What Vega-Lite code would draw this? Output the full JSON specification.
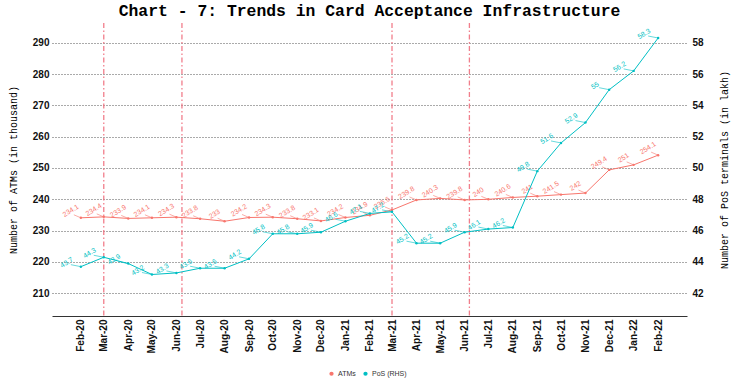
{
  "$schema": "https://vega.github.io/schema/vega-lite/v6.json",
  "width": 635,
  "height": 293,
  "autosize": {"type": "none"},
  "padding": {"left": 52, "top": 23, "right": 46, "bottom": 71},
  "background": "white",
  "title": {
    "text": "Chart - 7: Trends in Card Acceptance Infrastructure",
    "font": "Liberation Mono",
    "fontSize": 16.4,
    "fontWeight": "bold",
    "color": "#000000",
    "anchor": "middle",
    "frame": "group",
    "offset": 3
  },
  "config": {
    "view": {"stroke": null},
    "font": "Liberation Sans",
    "axis": {"labelOverlap": false, "labelFlush": false}
  },
  "datasets": {
    "series": [
      {"date": "2020-02-01", "atm": 234.1, "pos": 43.7},
      {"date": "2020-03-01", "atm": 234.4, "pos": 44.3},
      {"date": "2020-04-01", "atm": 233.9, "pos": 43.9},
      {"date": "2020-05-01", "atm": 234.1, "pos": 43.2},
      {"date": "2020-06-01", "atm": 234.3, "pos": 43.3},
      {"date": "2020-07-01", "atm": 233.8, "pos": 43.6},
      {"date": "2020-08-01", "atm": 233, "pos": 43.6},
      {"date": "2020-09-01", "atm": 234.2, "pos": 44.2},
      {"date": "2020-10-01", "atm": 234.3, "pos": 45.8},
      {"date": "2020-11-01", "atm": 233.8, "pos": 45.8},
      {"date": "2020-12-01", "atm": 233.1, "pos": 45.9},
      {"date": "2021-01-01", "atm": 234.2, "pos": 46.6},
      {"date": "2021-02-01", "atm": 234.9, "pos": 47.1},
      {"date": "2021-03-01", "atm": 236.6, "pos": 47.2},
      {"date": "2021-04-01", "atm": 239.8, "pos": 45.2},
      {"date": "2021-05-01", "atm": 240.3, "pos": 45.2},
      {"date": "2021-06-01", "atm": 239.8, "pos": 45.9},
      {"date": "2021-07-01", "atm": 240, "pos": 46.1},
      {"date": "2021-08-01", "atm": 240.6, "pos": 46.2},
      {"date": "2021-09-01", "atm": 241, "pos": 49.8},
      {"date": "2021-10-01", "atm": 241.5, "pos": 51.6},
      {"date": "2021-11-01", "atm": 242, "pos": 52.9},
      {"date": "2021-12-01", "atm": 249.4, "pos": 55},
      {"date": "2022-01-01", "atm": 251, "pos": 56.2},
      {"date": "2022-02-01", "atm": 254.1, "pos": 58.3}
    ],
    "events": [
      {"date": "2020-03-01"},
      {"date": "2020-06-08"},
      {"date": "2021-03-01"},
      {"date": "2021-06-07"}
    ]
  },
  "encoding": {
    "x": {"field": "date", "type": "temporal", "title": null,
      "scale": {"type": "utc", "domain": [{"year": 2019, "month": 12, "date": 26, "hours": 10, "minutes": 48, "utc": true}, {"year": 2022, "month": 3, "date": 9, "hours": 13, "minutes": 12, "utc": true}]},
      "axis": {"orient": "bottom", "format": "%b-%y", "labelAngle": -90, "labelOverlap": false, "labelFlush": false, "labelFont": "Liberation Sans", "labelFontWeight": "bold", "labelFontSize": 10, "labelColor": "#111111", "labelPadding": 3, "ticks": false, "grid": false, "domain": true, "domainColor": "#333333", "domainWidth": 1, "title": null,
        "values": [
          {"year": 2020, "month": 2, "date": 1, "utc": true}, {"year": 2020, "month": 3, "date": 1, "utc": true}, {"year": 2020, "month": 4, "date": 1, "utc": true}, {"year": 2020, "month": 5, "date": 1, "utc": true}, {"year": 2020, "month": 6, "date": 1, "utc": true}, {"year": 2020, "month": 7, "date": 1, "utc": true}, {"year": 2020, "month": 8, "date": 1, "utc": true}, {"year": 2020, "month": 9, "date": 1, "utc": true}, {"year": 2020, "month": 10, "date": 1, "utc": true}, {"year": 2020, "month": 11, "date": 1, "utc": true}, {"year": 2020, "month": 12, "date": 1, "utc": true},
          {"year": 2021, "month": 1, "date": 1, "utc": true}, {"year": 2021, "month": 2, "date": 1, "utc": true}, {"year": 2021, "month": 3, "date": 1, "utc": true}, {"year": 2021, "month": 4, "date": 1, "utc": true}, {"year": 2021, "month": 5, "date": 1, "utc": true}, {"year": 2021, "month": 6, "date": 1, "utc": true}, {"year": 2021, "month": 7, "date": 1, "utc": true}, {"year": 2021, "month": 8, "date": 1, "utc": true}, {"year": 2021, "month": 9, "date": 1, "utc": true}, {"year": 2021, "month": 10, "date": 1, "utc": true}, {"year": 2021, "month": 11, "date": 1, "utc": true}, {"year": 2021, "month": 12, "date": 1, "utc": true},
          {"year": 2022, "month": 1, "date": 1, "utc": true}, {"year": 2022, "month": 2, "date": 1, "utc": true}
        ]}}
  },
  "layer": [
    {
      "data": {"name": "events"},
      "mark": {"type": "rule", "color": "#F0707E", "strokeWidth": 1.3, "strokeDash": [5, 2.5, 1.5, 2.5], "opacity": 0.9},
      "encoding": {}
    },
    {
      "data": {"name": "series"},
      "encoding": {
        "y": {"field": "atm", "type": "quantitative", "title": "Number of ATMs (in thousand)",
          "scale": {"domain": [202.75, 296.29], "nice": false, "zero": false},
          "axis": {"orient": "left", "values": [210, 220, 230, 240, 250, 260, 270, 280, 290], "labelOverlap": false, "grid": true, "gridDash": [1, 2], "gridColor": "#555555", "gridWidth": 1, "ticks": false, "domain": false, "labelPadding": 3, "labelFont": "Liberation Sans", "labelFontWeight": "bold", "labelFontSize": 10, "labelColor": "#111111",
            "titleFont": "Liberation Mono", "titleFontSize": 10, "titleFontWeight": "normal", "titleColor": "#000000", "titleAngle": 270, "titleX": -39, "titleY": 146.5, "titleAlign": "center", "titleBaseline": "middle"}}
      },
      "layer": [
        {
          "mark": {"type": "rule", "color": "#F8766D", "strokeWidth": 0.6, "x2Offset": -7, "y2Offset": -3},
          "encoding": {
            "x2": {"field": "date"},
            "y2": {"field": "atm"}
          }
        },
        {
          "mark": {"type": "line", "color": "#F8766D", "strokeWidth": 1},
          "encoding": {}
        },
        {
          "mark": {"type": "point", "filled": true, "size": 6, "opacity": 1},
          "encoding": {
            "color": {"datum": "ATMs", "type": "nominal",
              "scale": {"domain": ["ATMs", "PoS (RHS)"], "range": ["#F8766D", "#00BFC4"]},
              "legend": {"title": null, "orient": "none", "direction": "horizontal", "legendX": 276, "legendY": 347, "labelFont": "Liberation Sans", "labelFontSize": 7, "labelColor": "#333333", "symbolSize": 18, "symbolType": "circle", "columnPadding": 6, "labelOffset": 3}}
          }
        },
        {
          "mark": {"type": "text", "angle": 328, "fontSize": 7, "font": "Liberation Sans", "dx": -4.8, "dy": -11.2, "color": "#F8766D", "align": "center", "baseline": "middle"},
          "encoding": {
            "text": {"field": "atm", "type": "nominal"}
          }
        }
      ]
    },
    {
      "data": {"name": "series"},
      "encoding": {
        "y": {"field": "pos", "type": "quantitative", "title": "Number of PoS terminals (in lakh)",
          "scale": {"domain": [40.55, 59.258], "nice": false, "zero": false},
          "axis": {"orient": "right", "values": [42, 44, 46, 48, 50, 52, 54, 56, 58], "labelOverlap": false, "grid": false, "ticks": false, "domain": false, "labelPadding": 5, "labelFont": "Liberation Sans", "labelFontWeight": "bold", "labelFontSize": 10, "labelColor": "#111111",
            "titleFont": "Liberation Mono", "titleFontSize": 10, "titleFontWeight": "normal", "titleColor": "#000000", "titleAngle": 270, "titleX": 37, "titleY": 146.5, "titleAlign": "center", "titleBaseline": "middle"}}
      },
      "layer": [
        {
          "mark": {"type": "rule", "color": "#00BFC4", "strokeWidth": 0.6, "x2Offset": -10, "y2Offset": -2},
          "encoding": {
            "x2": {"field": "date"},
            "y2": {"field": "pos"}
          }
        },
        {
          "mark": {"type": "line", "color": "#00BFC4", "strokeWidth": 1},
          "encoding": {}
        },
        {
          "mark": {"type": "point", "filled": true, "size": 6, "opacity": 1},
          "encoding": {
            "color": {"datum": "PoS (RHS)", "type": "nominal"}
          }
        },
        {
          "mark": {"type": "text", "angle": 328, "fontSize": 7, "font": "Liberation Sans", "dx": -9.8, "dy": -10.8, "color": "#00BFC4", "align": "center", "baseline": "middle"},
          "encoding": {
            "text": {"field": "pos", "type": "nominal"}
          }
        }
      ]
    }
  ],
  "resolve": {"scale": {"y": "independent"}}
}
